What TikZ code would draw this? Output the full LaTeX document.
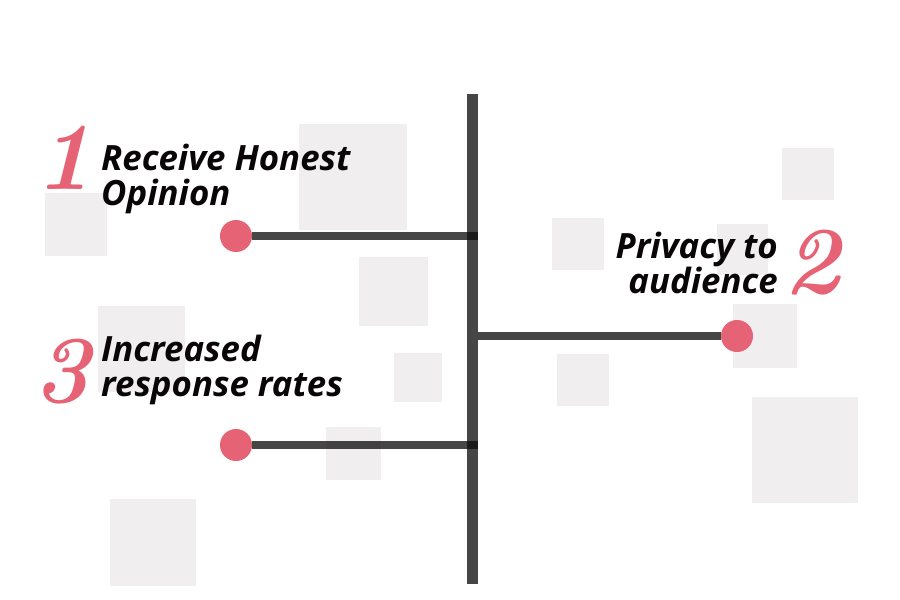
\documentclass[tikz,border=0pt]{standalone}
\usepackage{fontspec}
\newfontfamily\reasonfont{Open Sans}
\usepackage{tikz}
\definecolor{barcol}{RGB}{12,12,12}
\definecolor{dotcol}{RGB}{229,99,117}
\definecolor{tilecol}{RGB}{240,238,239}
\definecolor{inkcol}{RGB}{10,5,7}

\begin{document}
\begin{tikzpicture}[x=1pt,y=-1pt,
	tile/.style={fill=tilecol},
	dot/.style={circle,fill=dotcol,minimum size=32pt,inner sep=0pt},
	arm/.style={draw=barcol,opacity=0.76,line width=7.5pt},
	reason/.style={text=inkcol,inner sep=0pt,align=left,
		font=\reasonfont\bfseries\itshape\fontsize{34.8}{35}\selectfont},
	num/.style={text=dotcol,inner sep=0pt,anchor=base,
		font=\bfseries\itshape\fontsize{96}{96}\selectfont}]
	\useasboundingbox (0,0) rectangle (900,600);
	% background tiles
	\foreach \x/\y/\w/\h in {299/124/108/106, 45/193/62/63, 359/257/69/69, 98/306/87/86,
		394/353/48/49, 326/427/55/53, 110/499/86/87, 552/218/52/52, 782/148/52/52,
		717/224/51/51, 733/304/64/64, 557/354/52/52, 752/397/106/106}
		\fill[tile] (\x,\y) rectangle ++(\w,\h);
	% the bar
	\coordinate (top) at (472.5,94);
	\coordinate (bottom) at (472.5,584);
	\draw[arm,line width=11pt] (top) -- (bottom);
	% reasons
	\node[dot] (d1) at (236,236) {};
	\node[dot] (d2) at (737,336) {};
	\node[dot] (d3) at (236,445) {};
	\coordinate (j1) at (478,236);
	\coordinate (j2) at (478,336);
	\coordinate (j3) at (478,445);
	\draw[arm] (d1) -- (j1);
	\draw[arm] (j2) -- (d2);
	\draw[arm] (d3) -- (j3);
	% base anchor sits on the last line
	\node[reason,anchor=base west] (t1) at (101,205) {Receive Honest\\Opinion};
	\node[reason,anchor=base east,align=right] (t2) at (778,293) {Privacy to\\audience};
	\node[reason,anchor=base west] (t3) at (101,396) {Increased\\response rates};
	\node[num] (n1) at (64,189) {1};
	\node[num] (n2) at (812,293) {2};
	\node[num] (n3) at (62,402) {3};
\end{tikzpicture}
\end{document}
